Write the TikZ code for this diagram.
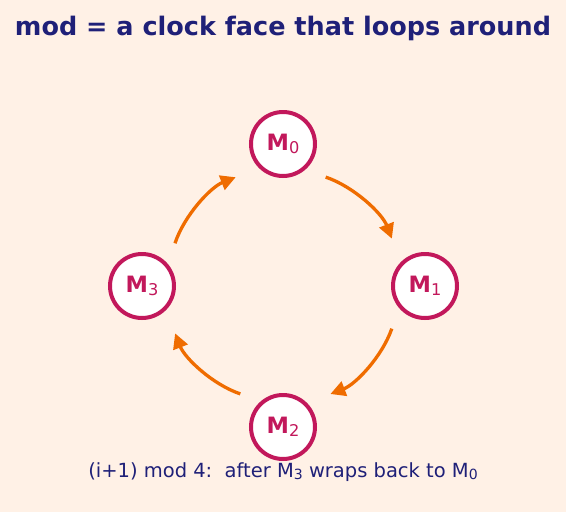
\documentclass[tikz,border=0pt]{standalone}
\usepackage{fontspec}
\setmainfont{DejaVu Sans}
\usepackage{tikz}
\usetikzlibrary{arrows.meta}
\definecolor{bgpeach}{HTML}{FFF1E6}
\definecolor{navy}{HTML}{1F2078}
\definecolor{crimson}{HTML}{C2185B}
\definecolor{flowor}{HTML}{EF6C00}
\newcommand{\msub}[1]{\raisebox{-0.12em}{\scalebox{0.72}{#1}}}
\newcommand{\mlabel}[1]{\textbf{M}\msub{#1}}
\tikzstyle{modnode}=[circle, draw=crimson, line width=4pt, fill=white, minimum size=64pt,
                     inner sep=0, text=crimson, font=\fontsize{22.5}{23}\selectfont]
\tikzstyle{flow}=[draw=flowor, line width=3.3pt, -{Triangle[length=15pt, width=15pt]},
                  shorten <=22pt, shorten >=25pt]
\tikzstyle{clockface}=[x=1pt, y=-1pt,
                       % Peach background covering the whole page.
                       execute at begin picture={\fill[bgpeach] (0,0) rectangle (566,512);}]
\begin{document}
\begin{tikzpicture}[clockface]
    \useasboundingbox (0,0) rectangle (566,512);
    \node[anchor=base, text=navy, font=\bfseries\fontsize{25.5}{26}\selectfont] (title) at (283,35) {mod = a clock face that loops around};
    \node[modnode] (M0) at (283,144) {\mlabel{0}};
    \node[modnode] (M1) at (425,286) {\mlabel{1}};
    \node[modnode] (M2) at (283,427) {\mlabel{2}};
    \node[modnode] (M3) at (142,286) {\mlabel{3}};
    \draw[flow] (M0.-50) to[bend left=25] (M1.135);
    \draw[flow] (M1.-140) to[bend left=25] (M2.45);
    \draw[flow] (M2.130) to[bend left=25] (M3.-45);
    \draw[flow] (M3.40) to[bend left=25] (M0.-135);
    \node[anchor=base, text=navy, font=\fontsize{19.5}{20}\selectfont] (note) at (283,477)
        {(i+1) mod 4:\ \ after M\msub{3} wraps back to M\msub{0}};
\end{tikzpicture}
\end{document}
